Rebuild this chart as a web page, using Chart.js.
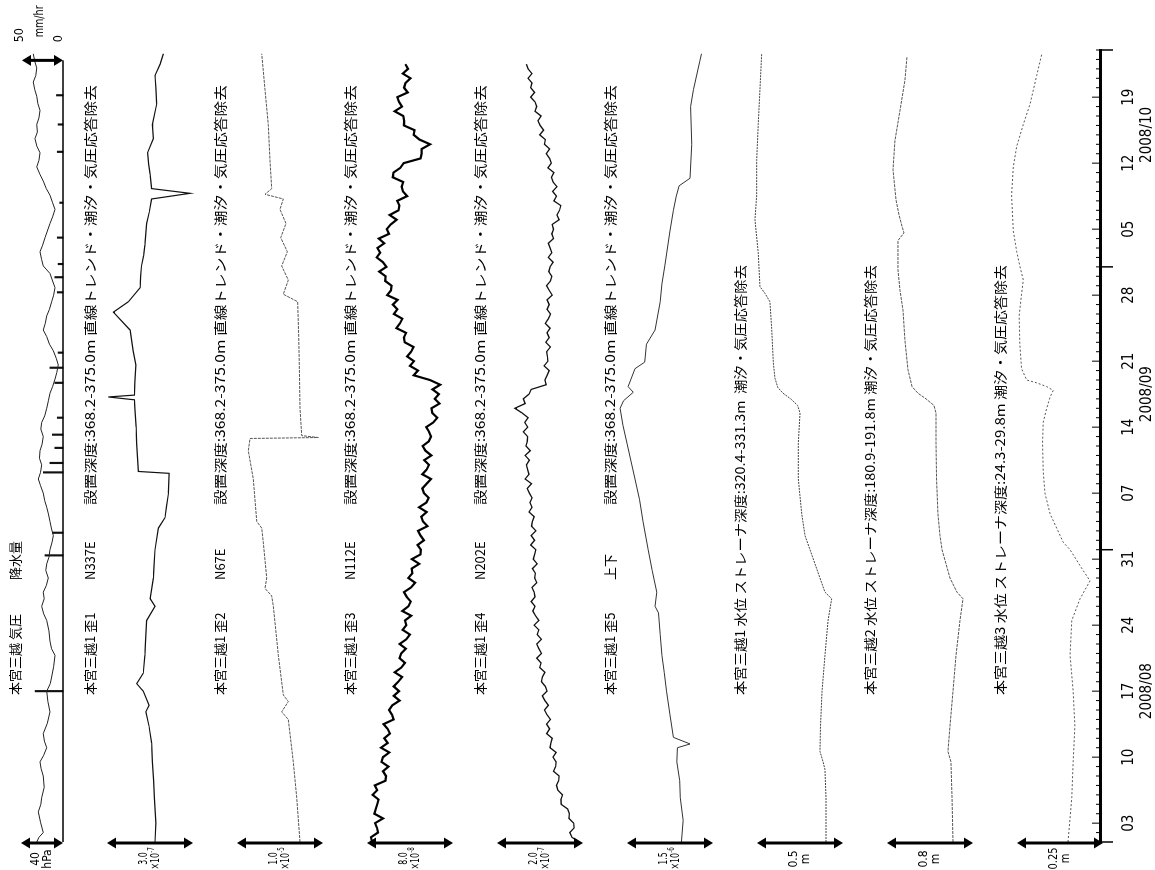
<!DOCTYPE html>
<html lang="ja">
<head>
<meta charset="utf-8">
<title>本宮三越 観測記録 2008/08-2008/10</title>
<script src="https://cdn.jsdelivr.net/npm/chart.js@4.4.1/dist/chart.umd.min.js"></script>
<style>
  html, body { margin: 0; padding: 0; background: #fff; overflow: hidden; }
  /* the record is drawn lying on its side, like the scanned sheet */
  #page { position: absolute; left: 0; top: 0; width: 870px; height: 1155px;
          transform-origin: 0 0; transform: translate(0, 870px) rotate(-90deg); }
</style>
</head>
<body>
<div id="page"><canvas id="chart" width="870" height="1155"></canvas></div>
<script>
// time = days since 2008/08/01 00:00
const tickDays = [2, 9, 16, 23, 30, 37, 44, 51, 58, 65, 72, 79];
const tickLabels = ['03', '10', '17', '24', '31', '07', '14', '21', '28', '05', '12', '19'];
const monthMarks = [16, 47.5, 75];
const monthLabels = ['2008/08', '2008/09', '2008/10'];
const monthStarts = [31, 61];

const halfDays = Array.from({ length: 166 }, (_, i) => i / 2);

// 気圧 (hPa, anomaly)
const pressDays = [0,0.5,1.0,2.1,3.2,4.0,4.7,5.8,7.0,7.8,8.5,9.2,10.0,10.7,11.5,12.6,13.8,14.9,16.0,16.8,
  17.5,18.6,19.8,20.5,21.3,22.4,23.5,24.2,25.0,25.8,26.5,27.2,28.0,28.8,29.5,30.2,31.0,31.8,32.5,33.2,
  34.0,34.8,35.5,36.2,37.0,37.8,38.5,39.2,40.0,40.7,41.5,42.2,43.0,43.8,44.5,45.2,46.0,46.8,47.6,48.3,
  49.1,49.8,50.6,51.3,52.1,52.8,53.6,54.3,55.0,55.8,56.5,57.3,58.0,58.8,59.5,60.3,61.1,61.8,62.6,63.3,
  64.1,64.8,65.6,66.3,67.1,67.8,68.6,69.3,70.1,70.8,71.6,72.3,73.1,73.8,74.6,75.3,76.1,76.8,77.6,78.3,
  79.1,79.8,80.6,81.3,82.1,82.8,83.6];
const pressure = [-3.1,-1.0,3.1,0.5,-1.6,0.8,1.6,4.0,3.1,1.0,0,3.5,6.4,4.2,3.1,7.0,9.5,7.5,6.4,9.8,
  11.1,13.0,14.3,11.0,9.5,8.5,6.4,3.5,1.6,4.0,3.1,6.0,7.9,5.5,6.4,8.5,9.5,11.5,12.7,11.0,
  9.5,8.0,6.4,4.5,3.1,0.5,-1.6,0.5,1.6,-0.5,0,2.0,3.1,0.8,1.6,4.5,6.4,8.0,9.5,12.0,
  14.3,16.0,17.4,15.5,12.7,9.0,6.4,3.1,5.0,6.4,9.0,11.1,13.0,14.3,12.0,9.5,3.1,1.5,0,2.5,
  4.8,7.0,9.5,12.0,14.3,12.0,9.5,6.0,3.1,0,-3.1,-1.0,0,-3.0,-4.8,-2.5,-3.1,-1.0,0,-2.0,
  -3.1,-5.0,-6.4,-4.0,-3.1,-5.0,-6.4];

// 降水量 (mm/hr)
const rainDays = [16.0, 30.4, 32.8, 39.2, 40.2, 41.8, 43.2, 45.0, 48.7, 50.3, 51.9, 58.3, 59.9, 61.3, 64.1, 67.8, 73.2, 76.1, 79.2];
const rainRates = [34, 22, 13, 24, 16, 10, 13, 7, 10, 16, 6, 7, 10, 6, 7, 4, 7, 6, 8];

// 歪1 N337E (x10^-7)
const strain1Days = [0,2.0,4.7,6.5,8.5,10.5,12.3,13.8,14.5,16.0,16.8,17.9,19.8,21.5,23.5,25.0,25.8,28.0,29.5,31.0,
  33.3,34.4,35.5,37.0,39.1,39.3,42.3,44.0,46.0,46.9,47.2,47.4,48.8,50.6,52.1,54.3,56.2,57.3,58.8,60.0,
  61.1,62.2,63.3,65.6,66.8,68.2,68.8,69.3,70.8,71.9,73.1,74.6,76.1,78.3,80.0,81.3,82.5,83.6];
const strain1 = [0.00,0.03,-0.02,-0.05,-0.09,-0.12,-0.21,-0.32,-0.21,-0.41,-0.64,-0.41,-0.35,-0.33,-0.29,0.00,-0.17,-0.06,-0.03,0.00,
  0.12,0.35,0.40,0.47,0.49,-0.58,-0.64,-0.66,-0.70,-0.72,-1.63,-0.72,-0.70,-0.67,-0.76,-0.87,-1.45,-0.93,-0.52,-0.50,
  -0.47,-0.40,-0.35,-0.29,-0.20,-0.12,1.22,-0.12,-0.17,-0.22,-0.26,-0.06,-0.09,0.06,0.03,0.00,0.18,0.29];

// 歪2 N67E (x10^-5)
const strain2Days = [0,4.7,8.5,13.0,13.8,14.9,15.6,19.8,25.0,26.1,26.9,28.0,31.8,33.3,34.0,38.5,41.5,42.8,42.9,43.1,
  46.0,50.6,53.6,57.3,58.1,59.6,61.1,62.6,64.1,65.6,67.1,68.2,68.7,69.3,72.3,76.1,79.8,83.6];
const strain2 = [0.000,-0.038,-0.078,-0.136,-0.213,-0.136,-0.194,-0.252,-0.310,-0.329,-0.407,-0.387,-0.427,-0.445,-0.503,-0.543,-0.601,-0.581,0.213,0.020,
  0.000,-0.008,-0.015,-0.027,-0.194,-0.136,-0.213,-0.147,-0.224,-0.163,-0.233,-0.194,-0.407,-0.329,-0.349,-0.369,-0.407,-0.445];

// 歪3 N112E (x10^-8), every half day
const strain3 = [0.19,0.09,0.74,0.65,0.47,1.21,0.41,0.54,0.67,0.80,
  0.24,0.67,0.45,1.43,1.49,1.21,1.72,1.07,1.21,1.80,
  1.02,1.65,1.33,1.86,1.64,1.26,2.20,2.04,1.78,2.08,
  2.75,2.21,2.70,2.20,2.63,2.98,2.29,2.91,3.25,2.75,
  2.91,3.34,2.75,3.38,3.72,3.03,3.38,3.26,3.83,3.00,
  3.58,3.79,3.42,3.16,3.82,4.20,3.56,3.93,3.87,4.58,
  3.89,4.69,4.74,4.42,5.02,4.70,4.47,5.35,4.93,4.77,
  5.27,4.56,5.24,5.46,5.02,4.87,5.27,5.67,4.87,5.27,
  5.49,5.04,5.70,5.16,4.90,5.47,5.67,5.50,5.23,5.89,
  6.26,5.80,5.72,6.47,6.02,6.40,5.82,6.53,5.58,4.07,
  4.46,3.72,4.09,3.45,3.83,4.05,3.23,3.15,3.36,2.46,
  2.78,3.01,2.22,2.55,2.13,2.56,1.60,1.94,2.01,1.42,
  1.46,0.85,1.53,1.21,0.62,0.94,0.69,1.33,0.81,1.77,
  1.56,1.93,2.48,1.83,2.66,2.74,2.54,3.45,3.06,2.94,
  3.09,2.12,2.18,2.82,3.13,4.71,4.80,4.80,5.59,4.60,
  4.07,4.14,3.15,3.18,3.10,2.30,2.98,2.70,2.54,3.51,
  3.17,3.30,3.77,3.05,3.54,3.29];

// 歪4 N202E (x10^-7), every half day
const strain4 = [0.02,-0.14,-0.19,-0.09,-0.10,-0.21,-0.20,-0.24,-0.39,-0.40,
  -0.36,-0.47,-0.50,-0.45,-0.44,-0.57,-0.52,-0.51,-0.58,-0.51,
  -0.65,-0.63,-0.60,-0.73,-0.66,-0.73,-0.64,-0.72,-0.78,-0.69,
  -0.77,-0.83,-0.72,-0.76,-0.85,-0.83,-0.77,-0.89,-0.86,-0.96,
  -0.85,-0.91,-0.96,-0.85,-0.95,-0.91,-1.02,-0.91,-0.99,-1.05,
  -1.00,-1.09,-1.00,-1.02,-1.07,-0.96,-1.01,-0.99,-1.06,-0.95,
  -1.04,-1.01,-0.98,-1.10,-1.01,-1.09,-0.98,-1.08,-1.06,-1.02,
  -1.14,-1.07,-1.12,-1.07,-1.13,-1.18,-1.08,-1.23,-1.14,-1.17,
  -1.20,-1.13,-1.23,-1.11,-1.21,-1.18,-1.17,-1.27,-1.17,-1.24,
  -1.16,-1.30,-1.47,-1.23,-1.27,-1.14,-1.09,-0.74,-0.77,-0.72,
  -0.67,-0.79,-0.70,-0.71,-0.73,-0.64,-0.75,-0.67,-0.72,-0.65,
  -0.76,-0.69,-0.64,-0.72,-0.67,-0.72,-0.60,-0.67,-0.73,-0.64,
  -0.61,-0.68,-0.65,-0.58,-0.69,-0.61,-0.65,-0.69,-0.57,-0.61,
  -0.57,-0.60,-0.44,-0.49,-0.43,-0.40,-0.56,-0.50,-0.59,-0.49,
  -0.58,-0.62,-0.56,-0.70,-0.62,-0.66,-0.74,-0.66,-0.78,-0.76,
  -0.89,-0.80,-0.88,-0.93,-0.86,-1.00,-0.96,-1.00,-1.10,-1.01,
  -1.10,-1.07,-1.16,-1.07,-1.16,-1.20];

// 歪5 上下 (x10^-6)
const strain5Days = [0,2.3,4.7,6.5,8.5,10.0,10.4,11.1,13.5,16.0,18.0,19.8,22.0,24.3,25.0,26.5,28.8,31.0,34.0,36.3,
  38.5,40.4,42.3,44.2,46.0,46.8,47.7,48.3,50.2,50.9,52.8,54.3,57.3,59.2,61.1,64.8,67.0,68.5,69.6,70.4,
  74.0,78.0,79.8,82.8,83.6];
const strain5 = [-0.01,0.02,-0.03,-0.04,-0.09,-0.08,0.14,-0.15,-0.21,-0.27,-0.31,-0.35,-0.38,-0.41,-0.47,-0.44,-0.52,-0.59,-0.68,-0.74,
  -0.82,-0.89,-0.96,-1.03,-1.08,-1.02,-0.85,-0.94,-0.82,-0.65,-0.62,-0.47,-0.38,-0.35,-0.30,-0.21,-0.15,-0.10,-0.05,0.14,
  0.17,0.15,0.20,0.31,0.34];

// 水位 (m)
const well1Days = [0,4.7,7.7,8.5,9.6,12.3,16.0,19.8,23.5,25.8,26.5,28.0,29.5,31.0,32.5,34.8,38.5,42.3,
  45.5,46.3,47.0,47.6,48.2,49.2,50.8,54.5,57.3,58.2,58.9,62.5,66.0,68.6,72.3,76.1,79.8,83.6];
const well1 = [0.000,0.000,-0.006,-0.017,-0.035,-0.032,-0.023,-0.006,0.012,0.033,-0.006,-0.035,-0.064,-0.093,-0.122,-0.141,-0.161,-0.161,
  -0.151,-0.165,-0.205,-0.250,-0.280,-0.297,-0.306,-0.316,-0.326,-0.355,-0.384,-0.394,-0.413,-0.403,-0.403,-0.394,-0.384,-0.374];

const well2Days = [0,4.7,8.5,9.6,12.3,16.0,19.8,23.5,25.8,26.5,28.0,29.5,31.0,32.5,34.8,38.5,42.3,
  45.5,46.3,47.0,47.6,48.3,50.1,53.2,56.4,58.5,60.7,63.8,64.6,65.3,66.5,68.1,71.3,74.4,77.6,80.8,83.3];
const well2 = [0.000,-0.009,-0.019,-0.047,-0.028,0.000,0.028,0.065,0.093,0.037,-0.028,-0.065,-0.102,-0.121,-0.140,-0.153,-0.158,
  -0.158,-0.177,-0.251,-0.326,-0.381,-0.419,-0.447,-0.465,-0.493,-0.512,-0.512,-0.456,-0.474,-0.502,-0.530,-0.558,-0.540,-0.493,-0.447,-0.428];

const well3Days = [0,4.7,8.5,12.3,16.0,19.8,23.5,25.8,27.7,28.8,29.9,31.0,31.8,33.3,34.8,37.0,39.3,42.3,44.5,46.0,
  47.2,47.9,48.3,48.7,49.0,50.2,52.8,55.8,58.1,59.6,61.1,62.6,64.8,68.6,71.6,73.8,76.1,78.3,81.3,83.6];
const well3 = [0.000,0.011,0.015,0.020,0.015,0.006,0.011,0.035,0.064,0.044,0.025,0.006,-0.014,-0.033,-0.052,-0.067,-0.072,-0.074,-0.072,-0.062,
  -0.052,-0.043,-0.062,-0.091,-0.120,-0.135,-0.140,-0.142,-0.135,-0.130,-0.140,-0.149,-0.159,-0.164,-0.159,-0.149,-0.130,-0.110,-0.091,-0.076];

// sheet layout (unrotated canvas pixels; the canvas is turned a quarter round)
const AREA_H = 1100;
const BAR_PX = 86;
const columns = [
  { id: 'yP', days: pressDays,   values: pressure, bar: 40,   barPx: 42, top: '40', unit: 'hPa', zero: 40, barLeft: 21, row: 15, color: '#222', width: 1 },
  { id: 'y1', days: strain1Days, values: strain1,  bar: 3.0,  top: '3.0',  exp: '-7', zero: 155,  barLeft: 107,  row: 90,   color: '#111', width: 1.2 },
  { id: 'y2', days: strain2Days, values: strain2,  bar: 1.0,  top: '1.0',  exp: '-5', zero: 300,  barLeft: 237,  row: 220,  color: '#555', width: 1, dash: [3, 1] },
  { id: 'y3', days: halfDays,    values: strain3,  bar: 8.0,  top: '8.0',  exp: '-8', zero: 370,  barLeft: 367,  row: 350,  color: '#000', width: 2.2 },
  { id: 'y4', days: halfDays,    values: strain4,  bar: 2.0,  top: '2.0',  exp: '-7', zero: 578,  barLeft: 497,  row: 480,  color: '#111', width: 1.3 },
  { id: 'y5', days: strain5Days, values: strain5,  bar: 1.5,  top: '1.5',  exp: '-6', zero: 682,  barLeft: 627,  row: 610,  color: '#333', width: 1 },
  { id: 'y6', days: well1Days,   values: well1,    bar: 0.5,  top: '0.5',  unit: 'm', zero: 826,  barLeft: 757,  row: 740,  color: '#444', width: 1, dash: [2, 1] },
  { id: 'y7', days: well2Days,   values: well2,    bar: 0.8,  top: '0.8',  unit: 'm', zero: 953,  barLeft: 887,  row: 870,  color: '#555', width: 1, dash: [3, 1] },
  { id: 'y8', days: well3Days,   values: well3,    bar: 0.25, top: '0.25', unit: 'm', zero: 1068, barLeft: 1017, row: 1000, color: '#555', width: 1, dash: [2, 2] }
];
const titles = [
  ['本宮三越 気圧', '降水量'],
  ['本宮三越1 歪1', 'N337E', '設置深度:368.2-375.0m 直線トレンド・潮汐・気圧応答除去'],
  ['本宮三越1 歪2', 'N67E', '設置深度:368.2-375.0m 直線トレンド・潮汐・気圧応答除去'],
  ['本宮三越1 歪3', 'N112E', '設置深度:368.2-375.0m 直線トレンド・潮汐・気圧応答除去'],
  ['本宮三越1 歪4', 'N202E', '設置深度:368.2-375.0m 直線トレンド・潮汐・気圧応答除去'],
  ['本宮三越1 歪5', '上下', '設置深度:368.2-375.0m 直線トレンド・潮汐・気圧応答除去'],
  ['本宮三越1 水位 ストレーナ深度:320.4-331.3m  潮汐・気圧応答除去'],
  ['本宮三越2 水位 ストレーナ深度:180.9-191.8m 潮汐・気圧応答除去'],
  ['本宮三越3 水位 ストレーナ深度:24.3-29.8m 潮汐・気圧応答除去']
];
const titleStarts = [175, 290, 365];
const LONG_STRAIN = 420, LONG_WELL = 430;
const RAIN_ZERO = 63, RAIN_BAR = 50, RAIN_BAR_PX = 41;
const NARROW = "'Liberation Sans Narrow', 'DejaVu Sans Condensed', 'Noto Sans', sans-serif";

const scales = {
  x: {
    type: 'linear', position: 'bottom', min: 0, max: 84, bounds: 'data', offset: false,
    afterBuildTicks: axis => { axis.ticks = tickDays.map(v => ({ value: v })); },
    afterFit: axis => { axis.height = 1155 - AREA_H; },
    ticks: {
      autoSkip: false, maxRotation: 0, minRotation: 0, padding: 20, color: '#000',
      font: { family: NARROW, size: 15 },
      callback: (v, i) => tickLabels[i]
    },
    grid: { display: false, drawTicks: false, offset: false },
    border: { display: true, color: '#000', width: 3 }
  }
};
columns.forEach(c => {
  const k = (c.barPx || BAR_PX) / c.bar;
  scales[c.id] = { type: 'linear', display: false, reverse: true, bounds: 'data', min: -c.zero / k, max: (AREA_H - c.zero) / k };
});
const rk = RAIN_BAR_PX / RAIN_BAR;
scales.yR = { type: 'linear', display: false, bounds: 'data', min: -(AREA_H - RAIN_ZERO) / rk, max: RAIN_ZERO / rk };

const datasets = columns.map(c => ({
  type: 'line', xAxisID: 'x', yAxisID: c.id,
  data: c.days.map((d, i) => ({ x: d, y: c.values[i] })),
  borderColor: c.color, borderWidth: c.width, borderDash: c.dash || [],
  pointRadius: 0, tension: 0, fill: false
}));
datasets.push({
  type: 'bar', xAxisID: 'x', yAxisID: 'yR',
  data: rainDays.map((d, i) => ({ x: d, y: rainRates[i] })),
  backgroundColor: '#111', barThickness: 1.5
});

function line(ctx, x1, y1, x2, y2) {
  ctx.beginPath(); ctx.moveTo(x1, y1); ctx.lineTo(x2, y2); ctx.stroke();
}
function arrow(ctx, x, y1, y2) {
  const h = 9, w = 5.5;
  ctx.lineWidth = 3;
  line(ctx, x, y1 + h - 1, x, y2 - h + 1);
  ctx.beginPath(); ctx.moveTo(x, y1); ctx.lineTo(x - w, y1 + h); ctx.lineTo(x + w, y1 + h); ctx.closePath(); ctx.fill();
  ctx.beginPath(); ctx.moveTo(x, y2); ctx.lineTo(x - w, y2 - h); ctx.lineTo(x + w, y2 - h); ctx.closePath(); ctx.fill();
}
// stretch or squeeze a text to the length it has on the sheet
function fitText(ctx, text, x, y, width, onlyShrink) {
  const w = ctx.measureText(text).width;
  const s = onlyShrink ? Math.min(1, width / w) : width / w;
  ctx.save();
  ctx.translate(x, y);
  ctx.scale(s, 1);
  ctx.fillText(text, 0, 0);
  ctx.restore();
}

const paper = {
  id: 'paper',
  afterDraw(chart) {
    const { ctx, chartArea, scales } = chart;
    const x = scales.x;
    const base = chartArea.bottom;
    ctx.save();
    ctx.fillStyle = '#000';
    ctx.strokeStyle = '#000';

    // day ticks on the time axis
    ctx.lineWidth = 1;
    for (let d = 0; d <= 84; d++) {
      const px = x.getPixelForValue(d);
      line(ctx, px, base, px, base - (tickDays.includes(d) ? 8 : 4));
    }
    ctx.lineWidth = 1.5;
    [0, 84].concat(monthStarts).forEach(d => {
      const px = x.getPixelForValue(d);
      line(ctx, px, base, px, base + 13);
    });
    ctx.font = '15px ' + NARROW;
    ctx.textAlign = 'center';
    ctx.textBaseline = 'middle';
    monthMarks.forEach((d, i) => ctx.fillText(monthLabels[i], x.getPixelForValue(d), base + 47));

    // rain base line and its scale
    const yR = scales.yR;
    const r0 = yR.getPixelForValue(0);
    const r50 = yR.getPixelForValue(RAIN_BAR);
    ctx.lineWidth = 1.5;
    line(ctx, chartArea.left, r0, x.getPixelForValue(82.9), r0);
    const topX = x.getPixelForValue(82.9);
    arrow(ctx, topX, r50, r0);
    ctx.font = '12.5px ' + NARROW;
    ctx.textAlign = 'left';
    ctx.fillText('50', topX + 18, r50 - 2);
    fitText(ctx, 'mm/hr', topX + 23, (r50 + r0) / 2 - 3, 32, true);
    ctx.fillText('0', topX + 18, r0 - 4);

    // column titles
    ctx.font = "13px 'Noto Sans CJK JP', sans-serif";
    ctx.textAlign = 'left';
    titles.forEach((parts, i) => {
      const row = columns[i].row;
      if (parts.length === 1) {
        fitText(ctx, parts[0], titleStarts[0], row, LONG_WELL);
      } else {
        parts.forEach((t, j) => {
          if (j === 2) fitText(ctx, t, titleStarts[j], row, LONG_STRAIN);
          else ctx.fillText(t, titleStarts[j], row);
        });
      }
    });

    // scale bars with their values
    const ax = chartArea.left - 1;
    columns.forEach(c => {
      const s = scales[c.id];
      const v0 = s.getValueForPixel(c.barLeft);
      const p1 = s.getPixelForValue(v0);
      const p2 = s.getPixelForValue(v0 + c.bar);
      arrow(ctx, ax, p1, p2);
      const mid = (p1 + p2) / 2;
      ctx.textAlign = 'left';
      ctx.textBaseline = 'middle';
      const second = c.exp ? '×10' : c.unit;
      ctx.font = '12px ' + NARROW;
      const w2 = ctx.measureText(second).width;
      const w1 = ctx.measureText(c.top).width;
      ctx.font = '8.5px ' + NARROW;
      const supW = c.exp ? ctx.measureText(c.exp).width : 0;
      const total = Math.max(w2 + supW, w1);
      const k = Math.min(1, 22 / total);
      ctx.save();
      ctx.translate(Math.max(0.5, 11 - total * k / 2), mid);
      ctx.scale(k, 1);
      ctx.font = '12px ' + NARROW;
      ctx.fillText(c.top, (total - w1) / 2, -6.5);
      const x2 = (total - w2 - supW) / 2;
      ctx.fillText(second, x2, 6);
      if (c.exp) {
        ctx.font = '8.5px ' + NARROW;
        ctx.fillText(c.exp, x2 + w2 + 0.5, 1.5);
      }
      ctx.restore();
    });
    ctx.restore();
  }
};

new Chart(document.getElementById('chart').getContext('2d'), {
  type: 'scatter',
  data: { datasets },
  options: {
    responsive: false,
    animation: false,
    devicePixelRatio: 1,
    events: [],
    layout: { padding: { left: 28, right: 50, top: 0, bottom: 0 } },
    plugins: { legend: { display: false }, tooltip: { enabled: false } },
    scales
  },
  plugins: [paper]
});
</script>
</body>
</html>
